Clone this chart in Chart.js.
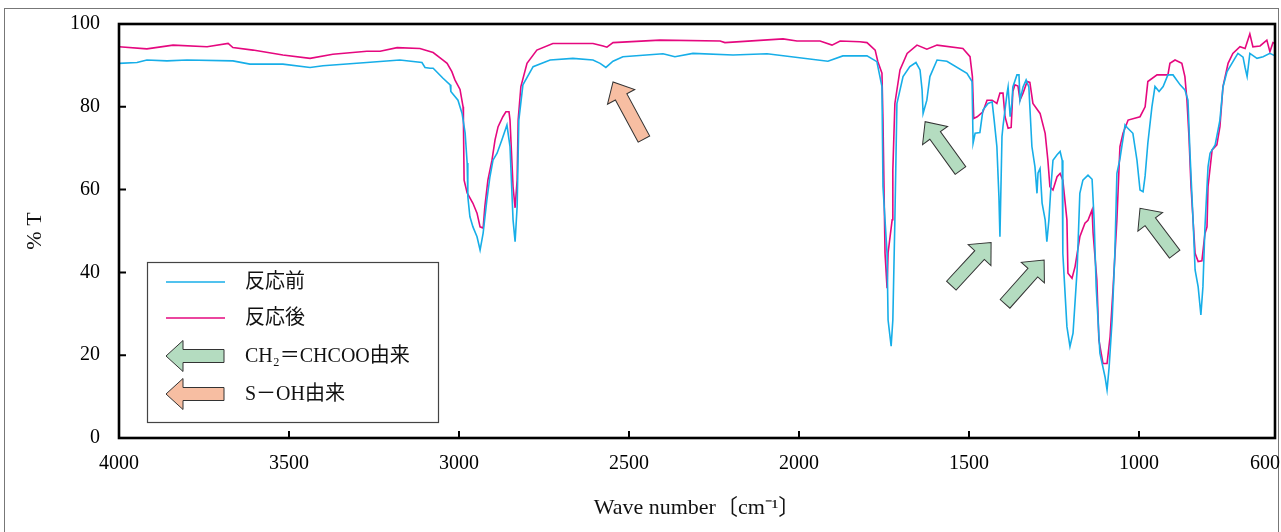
<!DOCTYPE html>
<html>
<head>
<meta charset="utf-8">
<title>IR spectrum</title>
<script src="https://cdn.jsdelivr.net/npm/chart.js@4.4.1/dist/chart.umd.min.js"></script>
<style>
  html, body { margin: 0; padding: 0; background: #fff; overflow: hidden; }
  #wrap { width: 1281px; height: 532px; }
</style>
</head>
<body>
<div id="wrap"><canvas id="irChart" width="1281" height="532"></canvas></div>
<script>
// --- spectrum data ---
const wavenumberBefore = [4000,3947,3918,3859,3800,3665,3615,3518,3438,3400,
  3271,3174,3109,3100,3085,3076,3047,3026,3024,3003,
  2991,2982,2976,2974,2968,2959,2947,2938,2929,2918,
  2909,2900,2888,2874,2859,2850,2841,2835,2829,2824,
  2812,2782,2732,2665,2606,2585,2568,2547,2518,2400,
  2365,2312,2194,2094,1915,1871,1800,1771,1756,1753,
  1741,1738,1729,1724,1718,1712,1694,1674,1656,1644,
  1638,1635,1624,1615,1594,1565,1506,1491,1488,1482,
  1468,1459,1444,1432,1426,1418,1412,1409,1403,1400,
  1388,1385,1379,1374,1371,1359,1353,1350,1341,1332,
  1324,1315,1306,1300,1297,1291,1285,1276,1271,1265,
  1259,1253,1241,1232,1226,1224,1212,1203,1194,1182,
  1174,1165,1150,1138,1132,1126,1115,1100,1094,1088,
  1079,1071,1065,1056,1041,1035,1018,1006,997,988,
  982,974,962,953,941,929,915,900,879,865,
  856,850,841,835,826,818,812,806,797,791,
  776,762,753,741,718,709,694,688,682,674,
  653,635,615,600];
const transBefore = [90.5,90.7,91.3,91.1,91.3,91.1,90.3,90.3,89.5,89.9,
  90.7,91.3,90.7,89.5,89.3,89.3,86.9,85.3,83.7,81.6,
  78.4,73.7,66.4,58.3,53.5,51.0,48.6,45.4,49.5,57.5,
  63.1,67.1,68.8,72.0,75.6,70.4,52.7,47.4,55.9,76.8,
  85.3,89.7,91.3,91.7,91.3,90.5,89.5,91.0,92.1,92.8,
  92.1,92.9,92.5,92.8,91.0,92.3,92.3,90.9,84.9,60.7,
  44.6,28.5,22.2,28.5,52.7,80.8,87.3,89.7,90.7,88.9,
  84.1,78.4,81.6,87.3,91.3,91.0,88.1,86.1,71.2,73.6,
  73.8,79.2,80.8,81.2,76.8,70.4,58.3,48.6,72.8,75.3,
  83.3,84.8,77.6,80.8,84.8,87.7,87.7,81.6,84.8,86.5,
  84.8,70.4,65.5,59.1,64.0,65.1,56.7,52.7,47.4,52.7,
  60.7,67.1,68.4,69.2,67.1,44.6,26.9,22.1,25.3,40.6,
  59.1,62.3,63.5,62.5,52.7,36.5,20.5,14.8,11.6,17.0,
  28.5,44.6,63.9,67.4,75.6,75.0,73.6,67.1,59.9,59.5,
  63.3,71.2,80.0,84.9,83.7,84.9,87.7,87.7,85.3,84.1,
  81.6,68.8,52.7,40.6,36.5,29.7,36.5,51.0,65.5,68.8,
  70.8,76.8,84.8,88.5,91.7,92.9,92.0,89.5,87.3,92.9,
  91.7,92.1,92.9,92.3];

const wavenumberAfter = [4000,3918,3841,3741,3679,3665,3606,3518,3438,3371,
  3271,3232,3182,3115,3076,3047,3035,3021,3012,2997,
  2988,2987,2985,2976,2959,2947,2938,2929,2924,2915,
  2903,2894,2885,2871,2862,2853,2850,2841,2835,2829,
  2826,2818,2800,2771,2724,2606,2576,2565,2547,2409,
  2232,2218,2047,2006,1938,1903,1879,1821,1800,1776,
  1768,1756,1753,1750,1747,1741,1738,1726,1724,1718,
  1703,1682,1653,1624,1594,1518,1497,1490,1486,1476,
  1459,1447,1432,1418,1409,1400,1394,1385,1376,1371,
  1365,1356,1350,1341,1329,1321,1312,1291,1276,1268,
  1262,1253,1241,1232,1224,1212,1209,1197,1188,1174,
  1159,1150,1138,1135,1124,1118,1106,1094,1085,1076,
  1065,1059,1056,1047,1032,997,982,974,947,915,
  909,894,874,865,859,853,847,835,826,815,
  806,800,797,785,771,762,753,738,724,703,
  688,674,665,644,624,615,606,600];
const transAfter = [94.5,94.0,94.9,94.5,95.3,94.3,93.7,92.5,91.7,92.7,
  93.4,93.4,94.3,94.1,93.1,91.3,90.5,88.5,86.5,84.2,
  80.0,76.8,62.3,59.2,56.7,54.3,51.0,50.7,55.9,62.3,
  67.1,72.0,75.2,77.6,78.8,78.8,76.8,60.7,55.6,62.3,
  76.8,84.9,90.5,93.7,95.3,95.3,94.7,94.4,95.5,96.1,
  95.9,95.5,96.4,95.9,95.9,94.9,95.9,95.7,95.5,93.7,
  90.9,88.1,76.8,60.7,44.7,36.2,44.7,52.7,64.7,80.8,
  88.9,92.9,94.9,93.9,94.9,94.1,92.1,87.3,77.2,77.6,
  78.8,81.6,81.6,80.8,83.3,83.3,77.6,74.8,75.0,83.7,
  85.3,85.0,81.6,83.3,86.1,85.9,80.8,78.4,73.6,67.1,
  60.7,59.9,63.1,63.9,62.3,52.7,39.8,38.6,41.4,48.6,
  51.9,52.6,55.1,49.5,38.2,23.7,18.0,18.0,24.5,36.5,
  52.7,64.7,70.4,73.6,76.8,77.6,80.0,86.1,87.7,87.7,
  90.5,91.3,90.5,87.3,81.6,72.8,60.7,44.6,42.6,42.8,
  49.4,51.0,60.7,69.6,70.8,75.2,84.9,90.5,92.9,94.5,
  94.1,97.6,94.5,94.7,96.1,93.3,95.5,95.3];

const xTickValues = [4000, 3500, 3000, 2500, 2000, 1500, 1000, 600];
const yTickValues = [0, 20, 40, 60, 80, 100];
const seriesLabels = ['反応前', '反応後'];
const arrowLabels = ['CH₂＝CHCOO由来', 'S－OH由来'];

// annotation arrows: [tip wavenumber, tip %T, tail wavenumber, tail %T]
const acrylateArrows = [[1629, 76.4, 1525, 64.6], [1435, 47.2, 1552, 36.8],
  [1279, 43.0, 1394, 32.4], [997, 55.5, 895, 44.4]];
const sulfonicArrows = [[2547, 86.0, 2456, 72.2]];

const CYAN = '#17aee8';
const MAGENTA = '#e5087f';
const GREEN = '#b4dcc0';
const SALMON = '#f7bea2';
const FONT = "'Liberation Serif', 'Noto Sans CJK JP', serif";

function toPoints(xs, ys) {
    return xs.map((x, i) => ({ x: x, y: ys[i] }));
}

// block arrow from tail (x1,y1) to tip (x2,y2), pixel space
function drawBlockArrow(ctx, x1, y1, x2, y2, fill) {
    const len = Math.hypot(x2 - x1, y2 - y1);
    const headLen = 17, headW = 31, bodyW = 13;
    ctx.save();
    ctx.translate(x1, y1);
    ctx.rotate(Math.atan2(y2 - y1, x2 - x1));
    ctx.beginPath();
    ctx.moveTo(0, -bodyW / 2);
    ctx.lineTo(len - headLen, -bodyW / 2);
    ctx.lineTo(len - headLen, -headW / 2);
    ctx.lineTo(len, 0);
    ctx.lineTo(len - headLen, headW / 2);
    ctx.lineTo(len - headLen, bodyW / 2);
    ctx.lineTo(0, bodyW / 2);
    ctx.closePath();
    ctx.fillStyle = fill;
    ctx.fill();
    ctx.strokeStyle = '#333';
    ctx.lineWidth = 1;
    ctx.stroke();
    ctx.restore();
}

// --- frame, inner ticks, arrows and legend ---
const spectrumDecor = {
    id: 'spectrumDecor',
    beforeDraw(chart) {
        const ctx = chart.ctx;
        ctx.save();
        ctx.strokeStyle = '#777';
        ctx.lineWidth = 1;
        ctx.strokeRect(4.5, 8.5, 1274, 600);
        ctx.restore();
    },
    afterDatasetsDraw(chart) {
        const { ctx, chartArea: a, scales: { x, y } } = chart;
        ctx.save();
        ctx.strokeStyle = '#000';
        ctx.lineWidth = 2;
        ctx.beginPath();
        xTickValues.forEach(v => {
            const px = x.getPixelForValue(v);
            ctx.moveTo(px, a.bottom);
            ctx.lineTo(px, a.bottom - 7);
        });
        yTickValues.forEach(v => {
            const py = y.getPixelForValue(v);
            ctx.moveTo(a.left, py);
            ctx.lineTo(a.left + 7, py);
        });
        ctx.stroke();
        ctx.lineWidth = 2.6;
        ctx.strokeRect(a.left, a.top, a.right - a.left, a.bottom - a.top);
        ctx.restore();
    },
    afterDraw(chart) {
        const { ctx, chartArea: a, scales: { x, y } } = chart;

        acrylateArrows.forEach(r => drawBlockArrow(ctx,
            x.getPixelForValue(r[2]), y.getPixelForValue(r[3]),
            x.getPixelForValue(r[0]), y.getPixelForValue(r[1]), GREEN));
        sulfonicArrows.forEach(r => drawBlockArrow(ctx,
            x.getPixelForValue(r[2]), y.getPixelForValue(r[3]),
            x.getPixelForValue(r[0]), y.getPixelForValue(r[1]), SALMON));

        // legend box
        const bx = a.left + 28, by = a.top + 238, bw = 291, bh = 160;
        ctx.save();
        ctx.fillStyle = '#fff';
        ctx.fillRect(bx, by, bw, bh);
        ctx.strokeStyle = '#444';
        ctx.lineWidth = 1.2;
        ctx.strokeRect(bx + 0.5, by + 0.5, bw, bh);

        ctx.font = '20px ' + FONT;
        ctx.fillStyle = '#111';
        ctx.textBaseline = 'middle';
        ctx.textAlign = 'left';
        const rows = [by + 20, by + 56, by + 94, by + 132];
        chart.data.datasets.forEach((ds, i) => {
            ctx.strokeStyle = ds.borderColor;
            ctx.lineWidth = 1.6;
            ctx.beginPath();
            ctx.moveTo(bx + 19, rows[i]);
            ctx.lineTo(bx + 78, rows[i]);
            ctx.stroke();
            ctx.fillText(ds.label, bx + 98, rows[i] + 1);
        });
        [GREEN, SALMON].forEach((c, i) => {
            const ry = rows[i + 2];
            drawBlockArrow(ctx, bx + 77, ry, bx + 19, ry, c);
            ctx.fillStyle = '#111';
            ctx.fillText(arrowLabels[i], bx + 98, ry + 1);
        });
        ctx.restore();
    }
};

new Chart(document.getElementById('irChart'), {
    type: 'line',
    data: {
        datasets: [{
            label: seriesLabels[0],
            data: toPoints(wavenumberBefore, transBefore),
            borderColor: CYAN,
            borderWidth: 1.6,
            pointRadius: 0,
            tension: 0,
            fill: false
        }, {
            label: seriesLabels[1],
            data: toPoints(wavenumberAfter, transAfter),
            borderColor: MAGENTA,
            borderWidth: 1.6,
            pointRadius: 0,
            tension: 0,
            fill: false
        }]
    },
    options: {
        responsive: false,
        animation: false,
        devicePixelRatio: 1,
        layout: { padding: { left: 0, right: 6, top: 24, bottom: 0 } },
        plugins: {
            legend: { display: false },
            tooltip: { enabled: false }
        },
        scales: {
            x: {
                type: 'linear',
                reverse: true,
                min: 600,
                max: 4000,
                grid: { display: false },
                border: { display: false },
                afterBuildTicks: scale => {
                    scale.ticks = xTickValues.map(v => ({ value: v }));
                },
                afterFit: scale => {
                    scale.height = 94;
                    scale.paddingLeft = 0;
                    scale.paddingRight = 0;
                },
                ticks: {
                    maxRotation: 0,
                    autoSkip: false,
                    padding: 6,
                    color: '#000',
                    font: { family: FONT, size: 20 },
                    callback: v => v === 600 ? '600\u2003' : String(v)
                },
                title: {
                    display: true,
                    text: 'Wave number〔cm⁻¹〕',
                    color: '#111',
                    font: { family: FONT, size: 22 },
                    padding: { top: 0, bottom: 11 }
                }
            },
            y: {
                min: 0,
                max: 100,
                grid: { display: false },
                border: { display: false },
                afterBuildTicks: scale => {
                    scale.ticks = yTickValues.map(v => ({ value: v }));
                },
                afterFit: scale => {
                    scale.width = 119;
                },
                ticks: {
                    padding: 11,
                    color: '#000',
                    font: { family: FONT, size: 20 }
                },
                title: {
                    display: true,
                    text: '% T',
                    color: '#111',
                    font: { family: FONT, size: 22 },
                    padding: { top: 22, bottom: 0 }
                }
            }
        }
    },
    plugins: [spectrumDecor]
});
</script>
</body>
</html>
